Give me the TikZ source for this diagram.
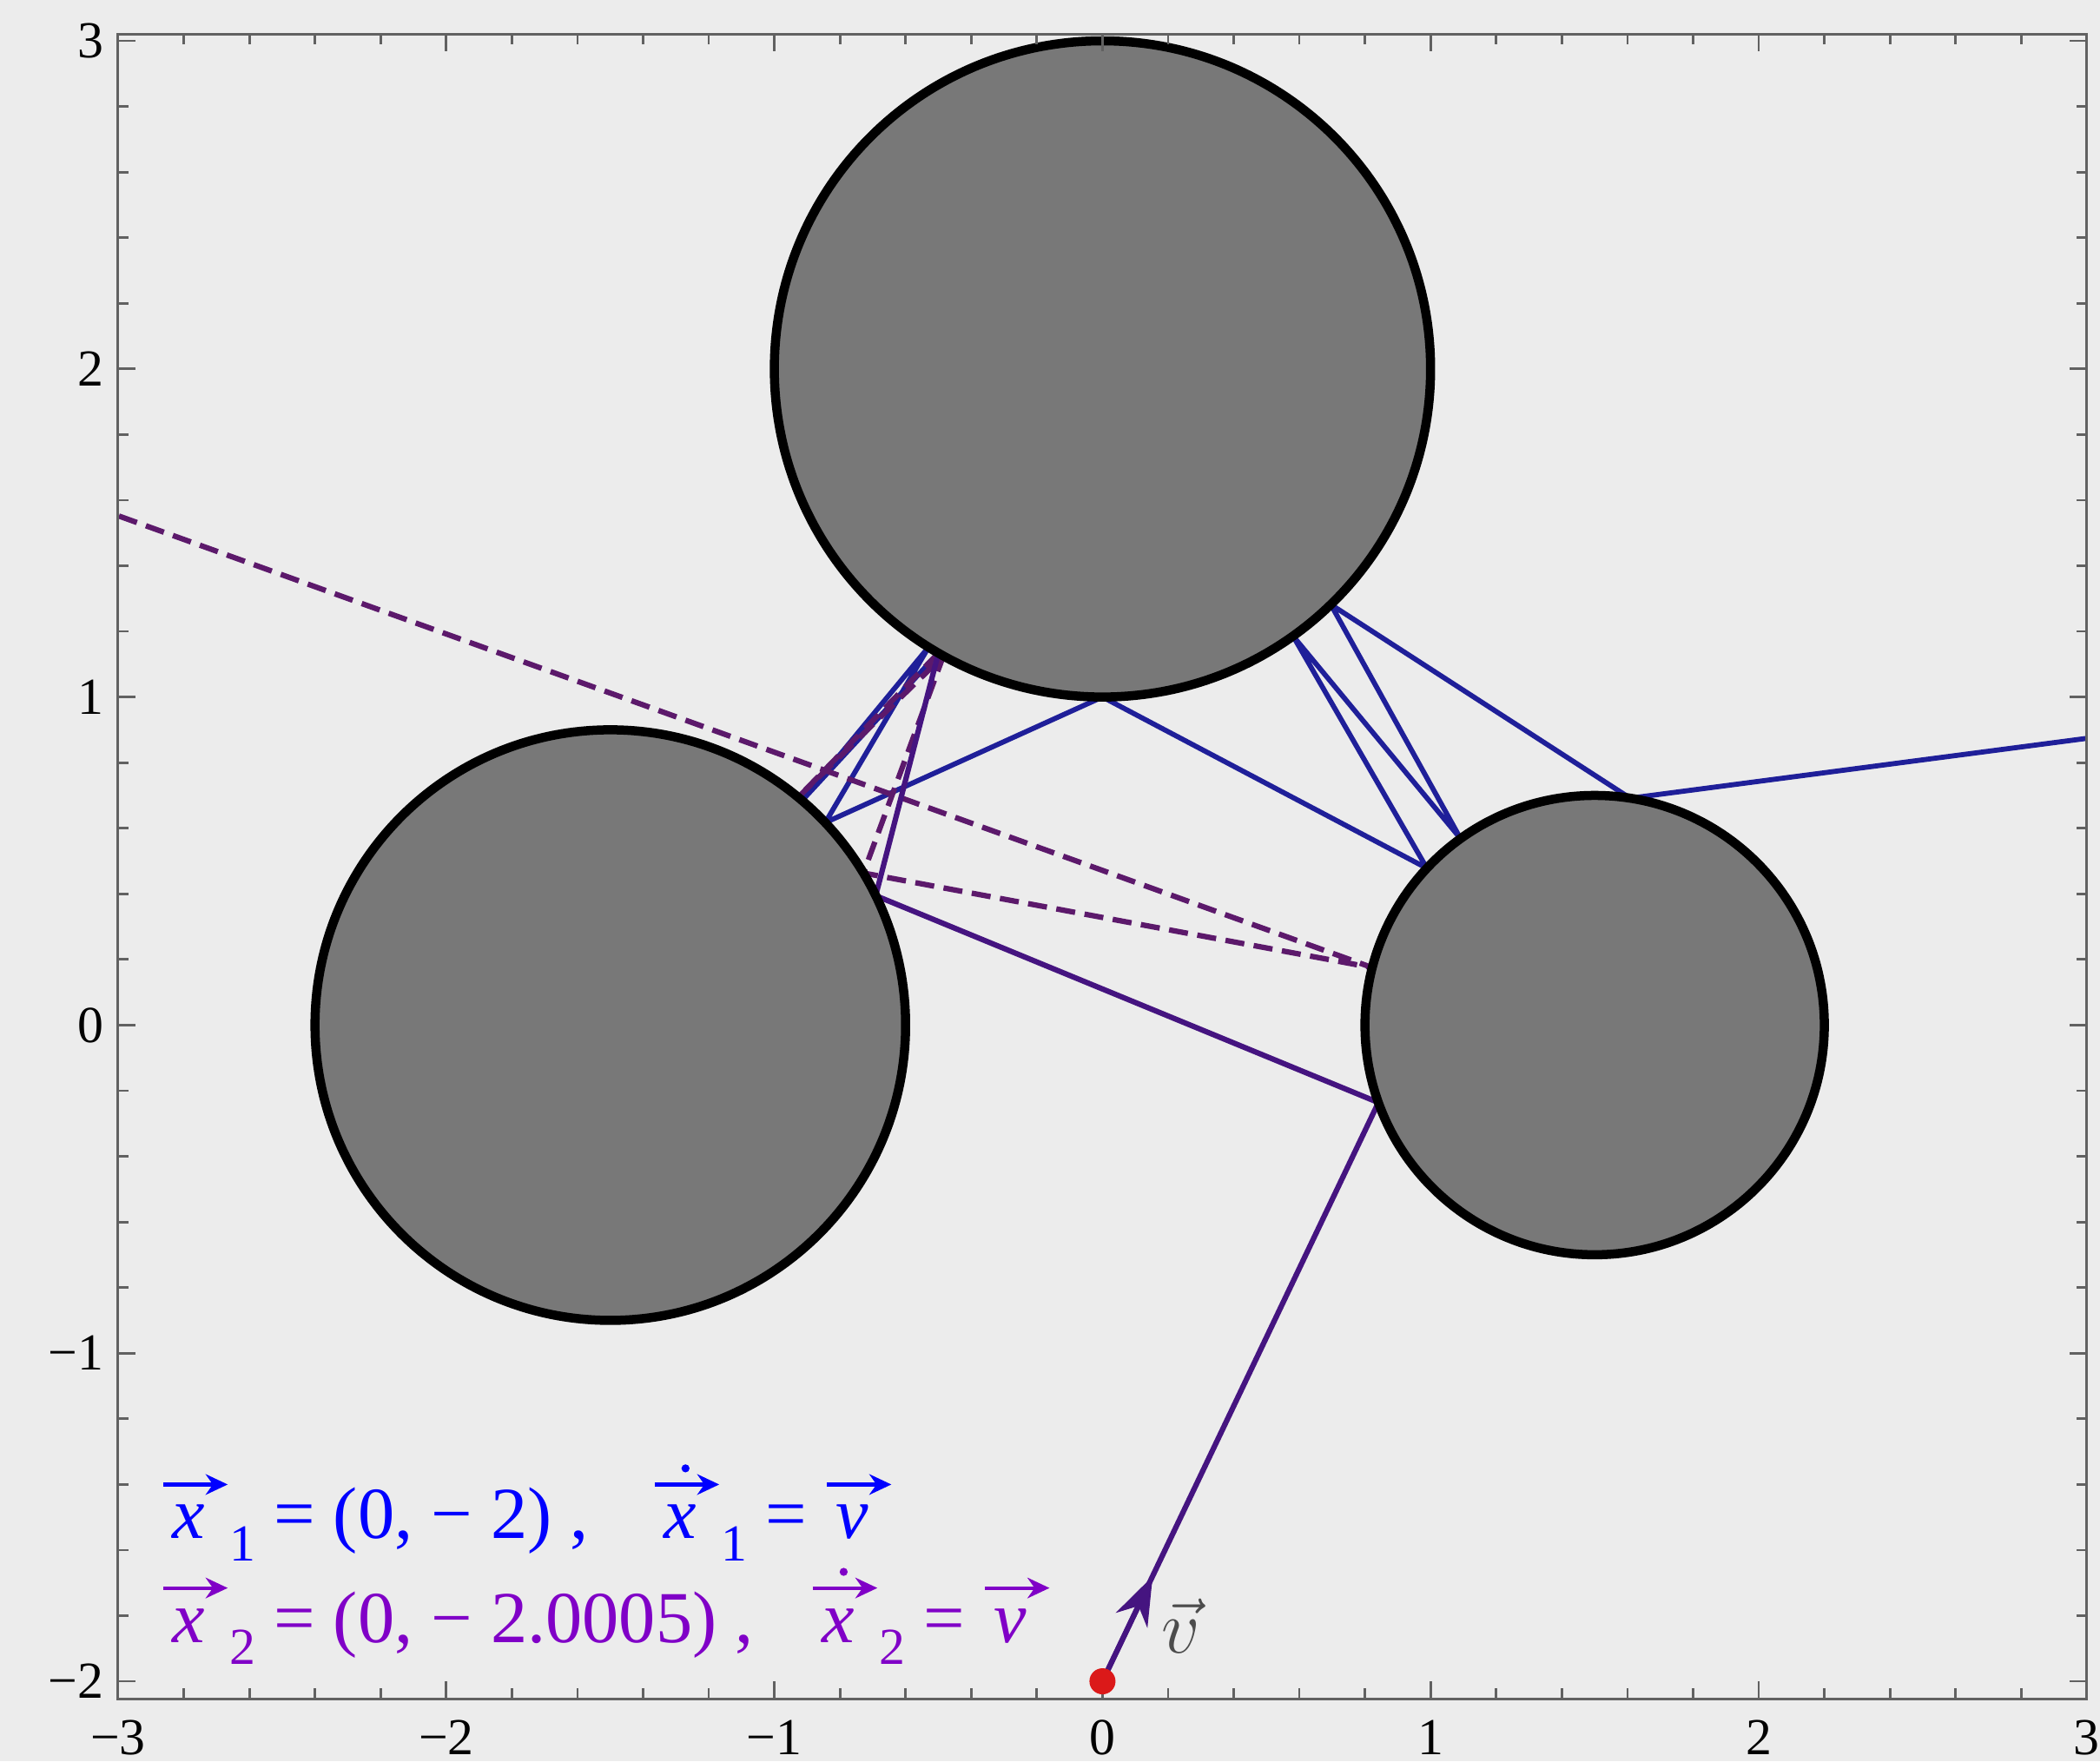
\documentclass[tikz,border=0pt]{standalone}
\usepackage[no-math]{fontspec}
\setmainfont{Liberation Serif}
\usetikzlibrary{arrows.meta}
\definecolor{bgc}{rgb}{0.925,0.925,0.925}
\definecolor{diskc}{rgb}{0.47,0.47,0.47}
\definecolor{bluetraj}{rgb}{0.12,0.12,0.6}
\definecolor{purptraj}{rgb}{0.36,0.1,0.42}
\definecolor{sharedtraj}{rgb}{0.27,0.08,0.5}
\definecolor{bluetext}{rgb}{0,0,1}
\definecolor{purptext}{rgb}{0.5,0,0.78}
\definecolor{dotred}{rgb}{0.86,0.1,0.1}
% letter with an arrow over it (#1 letter), optional dot above the arrow
\newcommand{\myarr}[1]{\tikz[baseline=0pt]{%
  \node[inner sep=0pt, anchor=base west] (t) at (0,0) {\itshape #1};
  \draw[draw=., line width=0.05em, -{Stealth[length=0.3em,width=0.28em]}] (-0.12em,0.74em) -- (0.76em,0.74em);}}
\newcommand{\myarrdot}[1]{\tikz[baseline=0pt]{%
  \node[inner sep=0pt, anchor=base west] (t) at (0,0) {\itshape #1};
  \draw[draw=., line width=0.05em, -{Stealth[length=0.3em,width=0.28em]}] (-0.12em,0.74em) -- (0.76em,0.74em);
  \fill[fill=.] (0.3em,0.96em) circle (0.055em);}}
\newcommand{\mysub}[1]{\raisebox{-0.3em}{\fontsize{17}{20}\selectfont #1}}
\begin{document}
\begin{tikzpicture}[x=3.776cm,y=3.776cm,
  tickc/.style={draw=black!62, line width=0.28mm},
  disk/.style={fill=diskc, draw=black, line width=1.05mm},
  bluepath/.style={draw=bluetraj, line width=0.58mm, line join=round},
  purppath/.style={draw=purptraj, line width=0.62mm, dash pattern=on 2.2mm off 1.1mm},
  sharedpath/.style={draw=sharedtraj, line width=0.62mm, line join=round},
  ticklab/.style={font=\fontsize{17}{20}\selectfont, text=black, inner sep=0pt},
  bluelab/.style={anchor=base west, inner sep=0pt, text=bluetext, font=\fontsize{24}{28}\selectfont},
  purplab/.style={anchor=base west, inner sep=0pt, text=purptext, font=\fontsize{24}{28}\selectfont}]
\fill[bgc] (-3.36,-2.2438) rectangle (3.0402,3.1245);
\useasboundingbox (-3.36,-2.2438) rectangle (3.0402,3.1245);

% circle centres
\coordinate (C0) at (0,2);
\coordinate (C1) at (-1.5,0);
\coordinate (C2) at (1.5,0);

% shared start
\coordinate (S)  at (0,-2);
\coordinate (P1) at (0.841,-0.236);
\coordinate (P2) at (-0.6911,0.3945);
\coordinate (P3) at (-0.5,1.134);
% blue trajectory
\coordinate (P4) at (-0.9155,0.6844);
\coordinate (P5) at (-0.5299,1.152);
\coordinate (P6) at (-0.8449,0.6171);
\coordinate (P7) at (0,1);
\coordinate (A)  at (0.9887,0.4781);
\coordinate (B)  at (0.5807,1.186);
\coordinate (Cc) at (1.0913,0.5684);
\coordinate (D)  at (0.6959,1.2819);
\coordinate (E)  at (1.6083,0.6916);
\coordinate (XR) at (3,0.874);
% purple trajectory
\coordinate (P4p) at (-0.9275,0.6943);
\coordinate (P5p) at (-0.4848,1.1254);
\coordinate (Q2) at (-0.7285,0.4635);
\coordinate (Q3) at (0.8223,0.1752);
\coordinate (XL) at (-3,1.5525);
\coordinate (VT) at (0.153,-1.680);

\draw[bluepath] (P3) -- (P4) -- (P5) -- (P6) -- (P7) -- (A) -- (B) -- (Cc) -- (D) -- (E) -- (XR);
\draw[purppath] (P3) -- (P4p) -- (P5p) -- (Q2) -- (Q3) -- (XL);
\draw[sharedpath] (S) -- (P1) -- (P2) -- (P3);

% disks
\draw[disk] (C0) circle (1);
\draw[disk] (C1) circle (0.9);
\draw[disk] (C2) circle (0.7);

% frame and ticks
\foreach \k in {-15,...,15} {
  \draw[tickc] ({\k/5},-2.053) -- ++(0,0.032);
  \draw[tickc] ({\k/5},3.021) -- ++(0,-0.032);
}
\foreach \k in {-10,...,15} {
  \draw[tickc] (-3,{\k/5}) -- ++(0.032,0);
  \draw[tickc] (3,{\k/5}) -- ++(-0.032,0);
}
\foreach \i in {-3,...,3} {
  \draw[tickc] (\i,-2.053) -- ++(0,0.052);
  \draw[tickc] (\i,3.021) -- ++(0,-0.052);
}
\foreach \i in {-2,...,3} {
  \draw[tickc] (-3,\i) -- ++(0.052,0);
  \draw[tickc] (3,\i) -- ++(-0.052,0);
}
\draw[draw=black!62, line width=0.3mm] (-3,-2.053) rectangle (3,3.021);

% tick labels
\foreach \i/\t in {-3/−3,-2/−2,-1/−1,0/0,1/1,2/2,3/3}
  \node[ticklab, anchor=center] (xl\i) at (\i,-2.172) {\t};
\foreach \i/\t in {-2/−2,-1/−1,0/0,1/1,2/2,3/3}
  \node[ticklab, anchor=east] (yl\i) at (-3.042,\i) {\t};

% velocity arrow and start point
\draw[draw=sharedtraj, line width=0.6mm, -{Stealth[length=5.6mm,width=4mm]}] (S) -- (VT);
\fill[dotred] (S) circle (1.5mm);
\node[text=black!70, font=\fontsize{30}{34}\selectfont, inner sep=0pt] (vlab) at (0.24,-1.83) {$\vec{v}$};

% initial conditions
\node[bluelab] (l1a) at (-2.870,-1.5655) {\myarr{x}\mysub{1} = (0, − 2) ,};
\node[bluelab] (l1b) at (-1.372,-1.5655) {\myarrdot{x}\mysub{1} = \myarr{v}};
\node[purplab] (l2a) at (-2.870,-1.881) {\myarr{x}\mysub{2} = (0, − 2.0005) ,};
\node[purplab] (l2b) at (-0.890,-1.881) {\myarrdot{x}\mysub{2} = \myarr{v}};
\end{tikzpicture}
\end{document}
